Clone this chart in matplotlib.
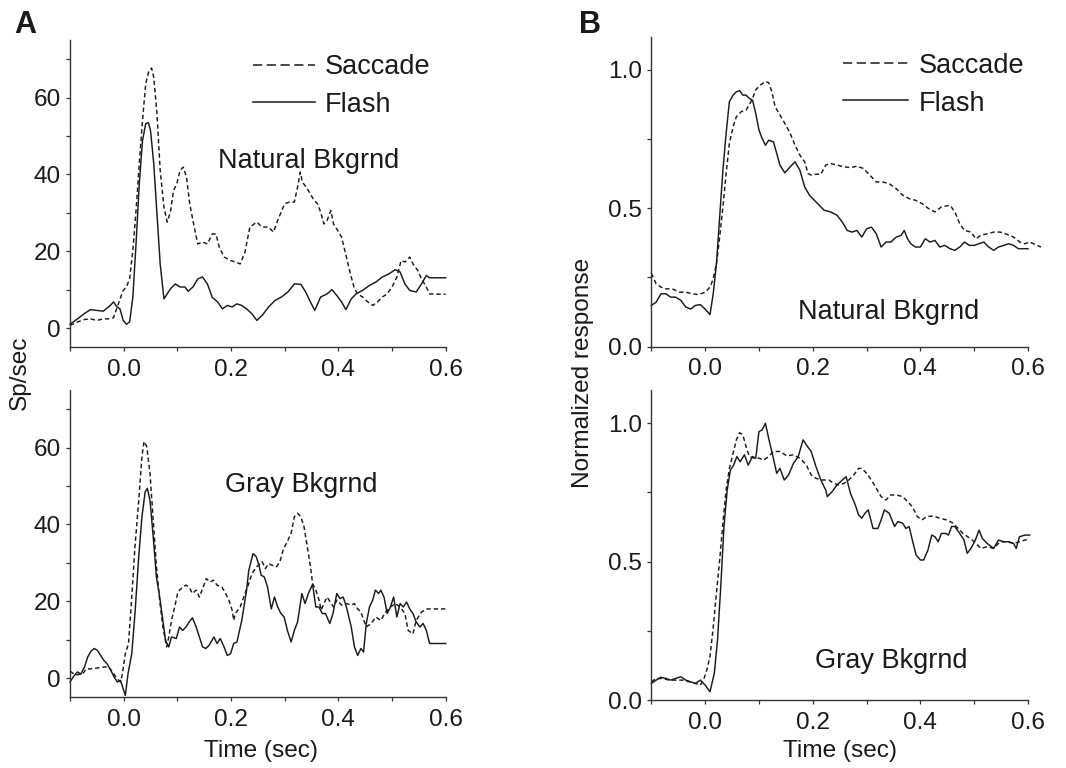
import matplotlib
matplotlib.use('Agg')
import matplotlib.pyplot as plt
from matplotlib.ticker import FixedLocator, FormatStrFormatter

plt.rcParams['font.family'] = ['Liberation Sans', 'DejaVu Sans']
INK = '#1a1a1a'
AXC = '#333333'

# ---------------- data (time in s, value) ----------------
# Panel A, natural background (spikes/s)
nat_flash = [(-0.100, 1.0), (-0.086, 2.4), (-0.074, 3.7), (-0.062, 4.8), (-0.050, 4.6), (-0.038, 4.4),
             (-0.025, 5.9), (-0.019, 6.8), (-0.013, 5.6), (-0.007, 5.0), (-0.001, 2.0), (0.005, 1.0),
             (0.011, 1.6), (0.017, 8.0), (0.023, 22.0), (0.029, 37.5), (0.035, 48.8), (0.041, 53.2),
             (0.046, 53.5), (0.050, 51.4), (0.056, 42.8), (0.062, 29.7), (0.068, 16.7), (0.075, 7.6),
             (0.081, 8.9), (0.087, 10.2), (0.096, 11.5), (0.105, 10.7), (0.114, 10.7), (0.120, 9.6),
             (0.129, 10.7), (0.138, 12.8), (0.147, 13.3), (0.156, 11.5), (0.165, 8.0), (0.175, 6.8),
             (0.184, 5.0), (0.193, 5.9), (0.202, 5.5), (0.211, 6.3), (0.220, 5.9), (0.229, 5.0),
             (0.239, 3.7), (0.248, 2.0), (0.258, 3.3), (0.270, 5.5), (0.282, 7.2), (0.294, 8.1),
             (0.306, 9.4), (0.318, 11.5), (0.330, 11.4), (0.339, 9.4), (0.348, 6.8), (0.356, 4.6),
             (0.367, 8.1), (0.379, 8.9), (0.388, 10.0), (0.397, 8.5), (0.406, 6.8), (0.414, 4.8),
             (0.424, 7.6), (0.433, 8.9), (0.445, 9.8), (0.458, 11.1), (0.470, 12.0), (0.482, 13.3),
             (0.494, 14.1), (0.506, 15.2), (0.515, 14.6), (0.524, 11.5), (0.533, 9.8), (0.545, 9.4),
             (0.555, 11.5), (0.564, 13.7), (0.570, 13.1), (0.600, 13.1)]
nat_saccade = [(-0.100, 0.7), (-0.086, 1.6), (-0.074, 2.2), (-0.062, 2.4), (-0.050, 2.0), (-0.038, 2.4),
               (-0.025, 2.4), (-0.019, 2.7), (-0.010, 6.3), (-0.001, 9.8), (0.005, 10.7), (0.011, 12.8),
               (0.017, 20.2), (0.023, 30.6), (0.029, 42.8), (0.035, 54.0), (0.041, 63.6), (0.047, 67.0),
               (0.052, 67.7), (0.056, 65.3), (0.062, 55.8), (0.068, 41.0), (0.075, 31.5), (0.081, 27.6),
               (0.087, 30.2), (0.093, 35.8), (0.099, 37.6), (0.105, 41.0), (0.111, 41.9), (0.117, 39.3),
               (0.123, 32.4), (0.129, 28.0), (0.138, 21.9), (0.147, 22.4), (0.156, 21.9), (0.165, 24.5),
               (0.172, 24.5), (0.178, 21.1), (0.187, 18.5), (0.199, 17.6), (0.208, 17.2), (0.217, 16.7),
               (0.226, 19.8), (0.235, 26.3), (0.239, 26.7), (0.248, 27.6), (0.258, 26.3), (0.270, 26.3),
               (0.279, 25.0), (0.288, 28.4), (0.300, 32.4), (0.309, 32.8), (0.318, 32.8), (0.324, 36.7),
               (0.329, 40.6), (0.333, 38.0), (0.342, 36.3), (0.355, 33.2), (0.361, 32.4), (0.367, 30.2),
               (0.373, 27.1), (0.379, 28.0), (0.386, 30.6), (0.391, 27.1), (0.397, 25.8), (0.406, 23.7),
               (0.412, 20.2), (0.418, 16.7), (0.424, 13.3), (0.430, 10.2), (0.436, 8.9), (0.445, 8.1),
               (0.455, 6.8), (0.464, 5.9), (0.473, 6.8), (0.482, 8.1), (0.491, 8.9), (0.500, 10.7),
               (0.509, 13.3), (0.517, 17.6), (0.524, 17.2), (0.533, 18.5), (0.539, 16.7), (0.548, 15.0),
               (0.555, 12.8), (0.564, 10.7), (0.570, 8.9), (0.600, 8.8)]

# Panel A, gray background (spikes/s)
gray_flash = [(-0.100, -1.0), (-0.092, 0.7), (-0.086, 1.6), (-0.080, 1.0), (-0.073, 2.9), (-0.067, 5.5),
              (-0.061, 7.0), (-0.055, 7.7), (-0.049, 7.2), (-0.043, 5.9), (-0.037, 4.6), (-0.031, 3.7),
              (-0.024, 2.0), (-0.018, 0.3), (-0.012, -1.0), (-0.006, -0.6), (0.000, -3.2), (0.003, -4.5),
              (0.008, 1.1), (0.015, 6.3), (0.021, 16.8), (0.028, 31.6), (0.034, 42.0), (0.040, 48.5),
              (0.044, 49.4), (0.049, 46.3), (0.055, 36.8), (0.061, 26.3), (0.067, 21.1), (0.073, 15.0),
              (0.078, 9.8), (0.084, 8.1), (0.089, 10.7), (0.098, 10.3), (0.104, 13.3), (0.110, 12.4),
              (0.116, 13.3), (0.122, 14.6), (0.128, 15.7), (0.135, 13.3), (0.141, 10.7), (0.147, 8.1),
              (0.153, 7.7), (0.159, 8.5), (0.168, 10.7), (0.174, 9.0), (0.180, 10.3), (0.187, 8.1),
              (0.193, 5.9), (0.199, 6.3), (0.205, 9.0), (0.211, 9.4), (0.220, 15.0), (0.229, 22.9),
              (0.233, 28.0), (0.241, 32.4), (0.247, 31.6), (0.252, 29.4), (0.256, 26.8), (0.262, 26.3),
              (0.268, 23.7), (0.275, 18.0), (0.281, 21.1), (0.287, 18.5), (0.293, 16.8), (0.299, 15.9),
              (0.305, 12.4), (0.312, 9.4), (0.318, 12.4), (0.324, 14.6), (0.332, 22.0), (0.338, 19.4),
              (0.344, 22.0), (0.352, 24.4), (0.358, 18.5), (0.364, 18.5), (0.370, 16.8), (0.376, 16.8),
              (0.384, 14.2), (0.390, 16.8), (0.397, 22.0), (0.403, 20.7), (0.409, 21.1), (0.415, 18.5),
              (0.424, 13.3), (0.430, 8.1), (0.436, 5.9), (0.442, 7.7), (0.447, 6.8), (0.452, 14.2),
              (0.458, 18.5), (0.464, 20.3), (0.469, 22.9), (0.475, 22.0), (0.479, 22.9), (0.485, 21.1),
              (0.491, 16.8), (0.497, 18.5), (0.503, 21.1), (0.509, 15.9), (0.515, 19.4), (0.521, 18.5),
              (0.527, 19.8), (0.533, 18.0), (0.539, 16.8), (0.545, 14.6), (0.552, 13.3), (0.558, 14.2),
              (0.564, 12.4), (0.570, 9.0), (0.600, 9.0)]
gray_saccade = [(-0.100, 1.8), (-0.090, 0.8), (-0.076, 1.1), (-0.070, 2.4), (-0.058, 2.4), (-0.046, 2.7),
                (-0.034, 2.9), (-0.028, 2.9), (-0.021, 1.6), (-0.012, -0.2), (-0.006, -1.0), (-0.003, 0.7),
                (0.003, 6.3), (0.009, 9.0), (0.015, 21.1), (0.021, 34.2), (0.028, 46.3), (0.034, 57.7),
                (0.038, 61.6), (0.043, 60.3), (0.049, 53.3), (0.055, 41.1), (0.061, 29.0), (0.067, 20.3),
                (0.073, 13.3), (0.080, 8.1), (0.084, 10.7), (0.089, 15.0), (0.095, 18.5), (0.101, 22.4),
                (0.107, 23.3), (0.116, 24.2), (0.122, 23.7), (0.128, 22.0), (0.135, 22.9), (0.141, 21.1),
                (0.147, 23.3), (0.154, 25.9), (0.161, 25.0), (0.167, 25.5), (0.174, 24.2), (0.183, 23.7),
                (0.190, 22.0), (0.196, 20.3), (0.202, 17.7), (0.205, 15.0), (0.208, 16.8), (0.217, 18.5),
                (0.226, 22.0), (0.233, 24.6), (0.239, 27.2), (0.248, 29.0), (0.258, 30.3), (0.264, 28.5),
                (0.270, 29.8), (0.276, 29.4), (0.285, 29.0), (0.291, 30.3), (0.297, 33.3), (0.306, 35.9),
                (0.312, 37.7), (0.318, 42.0), (0.324, 42.9), (0.330, 42.0), (0.336, 39.4), (0.342, 34.2),
                (0.348, 29.0), (0.352, 24.6), (0.358, 22.9), (0.364, 20.3), (0.368, 17.7), (0.373, 19.4),
                (0.379, 21.1), (0.385, 19.8), (0.391, 18.5), (0.397, 20.3), (0.406, 19.0), (0.415, 19.4),
                (0.424, 19.0), (0.430, 19.4), (0.436, 18.0), (0.442, 17.2), (0.452, 13.3), (0.461, 14.2),
                (0.470, 15.9), (0.479, 15.0), (0.488, 17.2), (0.497, 18.5), (0.506, 19.4), (0.515, 18.5),
                (0.524, 16.8), (0.530, 12.4), (0.539, 11.5), (0.545, 15.0), (0.555, 17.2), (0.564, 18.0),
                (0.600, 18.0)]

# Panel B, natural background (normalized)
nat_flash_norm = [(-0.100, 0.149), (-0.091, 0.161), (-0.082, 0.191), (-0.073, 0.191), (-0.064, 0.179),
                  (-0.055, 0.179), (-0.045, 0.167), (-0.036, 0.143), (-0.027, 0.136), (-0.018, 0.149),
                  (-0.009, 0.152), (0.000, 0.136), (0.009, 0.116), (0.015, 0.191), (0.021, 0.300),
                  (0.027, 0.469), (0.033, 0.638), (0.039, 0.771), (0.045, 0.885), (0.052, 0.909),
                  (0.058, 0.921), (0.064, 0.925), (0.070, 0.909), (0.076, 0.909), (0.082, 0.897),
                  (0.088, 0.891), (0.094, 0.843), (0.100, 0.783), (0.106, 0.752), (0.112, 0.728),
                  (0.118, 0.746), (0.127, 0.740), (0.133, 0.698), (0.139, 0.656), (0.148, 0.628),
                  (0.158, 0.650), (0.167, 0.668), (0.176, 0.638), (0.185, 0.577), (0.194, 0.547),
                  (0.203, 0.529), (0.212, 0.511), (0.221, 0.493), (0.233, 0.487), (0.245, 0.475),
                  (0.255, 0.450), (0.264, 0.420), (0.273, 0.414), (0.282, 0.420), (0.291, 0.396),
                  (0.300, 0.426), (0.309, 0.432), (0.318, 0.408), (0.327, 0.360), (0.336, 0.378),
                  (0.345, 0.378), (0.355, 0.396), (0.364, 0.402), (0.370, 0.420), (0.376, 0.390),
                  (0.382, 0.372), (0.391, 0.360), (0.400, 0.360), (0.409, 0.390), (0.418, 0.378),
                  (0.427, 0.384), (0.436, 0.360), (0.445, 0.366), (0.455, 0.354), (0.464, 0.348),
                  (0.473, 0.360), (0.482, 0.378), (0.491, 0.366), (0.500, 0.366), (0.509, 0.372),
                  (0.518, 0.378), (0.527, 0.360), (0.536, 0.348), (0.545, 0.360), (0.555, 0.366),
                  (0.564, 0.372), (0.573, 0.366), (0.582, 0.354), (0.591, 0.354), (0.600, 0.354)]
nat_saccade_norm = [(-0.100, 0.265), (-0.091, 0.227), (-0.082, 0.215), (-0.073, 0.209), (-0.061, 0.209),
                    (-0.048, 0.197), (-0.036, 0.197), (-0.024, 0.191), (-0.012, 0.188), (0.000, 0.197),
                    (0.009, 0.215), (0.015, 0.245), (0.021, 0.300), (0.027, 0.396), (0.033, 0.505),
                    (0.039, 0.626), (0.045, 0.734), (0.052, 0.795), (0.058, 0.831), (0.067, 0.849),
                    (0.076, 0.855), (0.082, 0.873), (0.088, 0.897), (0.094, 0.928), (0.103, 0.946),
                    (0.112, 0.958), (0.118, 0.954), (0.124, 0.921), (0.130, 0.867), (0.139, 0.837),
                    (0.148, 0.807), (0.158, 0.771), (0.167, 0.728), (0.176, 0.692), (0.185, 0.668),
                    (0.191, 0.626), (0.197, 0.620), (0.206, 0.623), (0.215, 0.623), (0.224, 0.656),
                    (0.233, 0.662), (0.245, 0.656), (0.258, 0.650), (0.270, 0.647), (0.282, 0.652),
                    (0.294, 0.644), (0.306, 0.620), (0.318, 0.595), (0.330, 0.595), (0.342, 0.589),
                    (0.355, 0.571), (0.367, 0.547), (0.379, 0.535), (0.391, 0.529), (0.403, 0.517),
                    (0.415, 0.499), (0.427, 0.487), (0.439, 0.505), (0.455, 0.511), (0.464, 0.487),
                    (0.473, 0.444), (0.482, 0.420), (0.494, 0.414), (0.503, 0.390), (0.512, 0.402),
                    (0.524, 0.408), (0.536, 0.414), (0.548, 0.414), (0.561, 0.406), (0.573, 0.396),
                    (0.585, 0.378), (0.594, 0.372), (0.603, 0.378), (0.624, 0.360)]

# Panel B, gray background (normalized)
gray_flash_norm = [(-0.100, 0.060), (-0.091, 0.072), (-0.082, 0.082), (-0.073, 0.078), (-0.064, 0.072),
                   (-0.055, 0.078), (-0.045, 0.084), (-0.036, 0.072), (-0.027, 0.066), (-0.018, 0.060),
                   (-0.009, 0.072), (0.000, 0.054), (0.009, 0.030), (0.017, 0.096), (0.023, 0.217),
                   (0.029, 0.410), (0.035, 0.627), (0.041, 0.759), (0.047, 0.831), (0.053, 0.849),
                   (0.059, 0.880), (0.065, 0.861), (0.073, 0.886), (0.080, 0.849), (0.088, 0.880),
                   (0.094, 0.874), (0.100, 0.970), (0.106, 0.976), (0.112, 1.000), (0.118, 0.946),
                   (0.126, 0.880), (0.133, 0.819), (0.139, 0.837), (0.147, 0.795), (0.155, 0.813),
                   (0.164, 0.855), (0.173, 0.880), (0.182, 0.940), (0.188, 0.922), (0.197, 0.898),
                   (0.206, 0.843), (0.215, 0.795), (0.224, 0.759), (0.227, 0.735), (0.236, 0.753),
                   (0.245, 0.777), (0.255, 0.795), (0.262, 0.807), (0.270, 0.747), (0.279, 0.705),
                   (0.285, 0.669), (0.291, 0.657), (0.297, 0.675), (0.303, 0.687), (0.312, 0.620),
                   (0.321, 0.620), (0.327, 0.651), (0.333, 0.687), (0.342, 0.675), (0.352, 0.627),
                   (0.358, 0.645), (0.367, 0.639), (0.373, 0.620), (0.379, 0.627), (0.385, 0.578),
                   (0.392, 0.524), (0.400, 0.506), (0.406, 0.506), (0.414, 0.542), (0.421, 0.596),
                   (0.427, 0.590), (0.433, 0.572), (0.439, 0.602), (0.447, 0.602), (0.452, 0.596),
                   (0.458, 0.627), (0.464, 0.627), (0.473, 0.602), (0.481, 0.578), (0.487, 0.530),
                   (0.494, 0.548), (0.502, 0.578), (0.509, 0.614), (0.515, 0.584), (0.524, 0.566),
                   (0.530, 0.557), (0.536, 0.548), (0.545, 0.578), (0.555, 0.572), (0.564, 0.572),
                   (0.573, 0.566), (0.578, 0.548), (0.584, 0.590), (0.594, 0.596), (0.603, 0.596)]
gray_saccade_norm = [(-0.100, 0.066), (-0.091, 0.078), (-0.079, 0.078), (-0.067, 0.072), (-0.055, 0.072),
                     (-0.042, 0.072), (-0.030, 0.066), (-0.018, 0.060), (-0.009, 0.054), (-0.003, 0.072),
                     (0.003, 0.108), (0.009, 0.157), (0.015, 0.263), (0.021, 0.386), (0.027, 0.506),
                     (0.033, 0.639), (0.039, 0.759), (0.045, 0.837), (0.052, 0.892), (0.058, 0.940),
                     (0.064, 0.966), (0.070, 0.958), (0.076, 0.916), (0.082, 0.880), (0.091, 0.874),
                     (0.100, 0.874), (0.109, 0.867), (0.118, 0.880), (0.127, 0.898), (0.139, 0.898),
                     (0.152, 0.882), (0.164, 0.886), (0.176, 0.874), (0.188, 0.849), (0.197, 0.813),
                     (0.206, 0.801), (0.218, 0.795), (0.230, 0.795), (0.239, 0.783), (0.248, 0.777),
                     (0.258, 0.783), (0.267, 0.795), (0.276, 0.813), (0.285, 0.837), (0.291, 0.837),
                     (0.300, 0.819), (0.309, 0.795), (0.318, 0.765), (0.327, 0.735), (0.336, 0.723),
                     (0.345, 0.741), (0.355, 0.741), (0.367, 0.735), (0.376, 0.717), (0.385, 0.699),
                     (0.394, 0.663), (0.403, 0.651), (0.412, 0.663), (0.424, 0.665), (0.436, 0.657),
                     (0.448, 0.651), (0.461, 0.639), (0.470, 0.620), (0.479, 0.602), (0.488, 0.590),
                     (0.500, 0.572), (0.512, 0.548), (0.524, 0.554), (0.536, 0.548), (0.548, 0.572),
                     (0.561, 0.572), (0.573, 0.566), (0.585, 0.572), (0.594, 0.578), (0.603, 0.581)]

x_major = [0.0, 0.2, 0.4, 0.6]
x_minor = [-0.1, 0.1, 0.3, 0.5]
rate_major = [0, 20, 40, 60]
rate_minor = [10, 30, 50, 70]
norm_major = [0.0, 0.5, 1.0]
norm_minor = [0.25, 0.75]

# ---------------- figure ----------------
fig = plt.figure(figsize=(10.66, 7.68), dpi=100)
axA1 = fig.add_axes([0.0657, 0.5478, 0.3524, 0.4001])
axA2 = fig.add_axes([0.0657, 0.0921, 0.3524, 0.4001])
axB1 = fig.add_axes([0.6110, 0.5486, 0.3534, 0.4036])
axB2 = fig.add_axes([0.6110, 0.0885, 0.3534, 0.4036])

DASH = (0, (3.0, 2.0))
TXT = 19.5
TICK = 17.6


def style(ax, ylim, ymaj, ymin, yfmt):
    ax.set_xlim(-0.1, 0.6)
    ax.set_ylim(*ylim)
    for s in ('top', 'right'):
        ax.spines[s].set_visible(False)
    for s in ('left', 'bottom'):
        ax.spines[s].set_color(AXC)
        ax.spines[s].set_linewidth(1.0)
    ax.xaxis.set_major_locator(FixedLocator(x_major))
    ax.xaxis.set_minor_locator(FixedLocator(x_minor))
    ax.xaxis.set_major_formatter(FormatStrFormatter('%.1f'))
    ax.yaxis.set_major_locator(FixedLocator(ymaj))
    ax.yaxis.set_minor_locator(FixedLocator(ymin))
    ax.yaxis.set_major_formatter(FormatStrFormatter(yfmt))
    ax.tick_params(which='both', direction='out', length=3.0, width=0.9, color=AXC,
                   labelsize=TICK, labelcolor=INK)
    ax.tick_params(axis='x', which='both', pad=5.5)
    ax.tick_params(axis='y', which='both', pad=3.5)
    ax.patch.set_visible(False)


def draw(ax, series, ls):
    t = [p[0] for p in series]
    v = [p[1] for p in series]
    ax.plot(t, v, color=INK, lw=1.05, ls=ls, clip_on=False)


def legend(ax, x0, x1, yl1, yb1, yl2, yb2, xt):
    ax.plot([x0, x1], [yl1, yl1], transform=ax.transAxes, color=INK, lw=1.1,
            ls=(0, (6.0, 3.0)), clip_on=False)
    ax.plot([x0, x1], [yl2, yl2], transform=ax.transAxes, color=INK, lw=1.1,
            ls='-', clip_on=False)
    ax.text(xt, yb1, 'Saccade', transform=ax.transAxes, fontsize=TXT, color=INK,
            ha='left', va='baseline')
    ax.text(xt, yb2, 'Flash', transform=ax.transAxes, fontsize=TXT, color=INK,
            ha='left', va='baseline')


style(axA1, (-5, 75), rate_major, rate_minor, '%d')
style(axA2, (-5, 75), rate_major, rate_minor, '%d')
style(axB1, (0, 1.12), norm_major, norm_minor, '%.1f')
style(axB2, (0, 1.12), norm_major, norm_minor, '%.1f')

draw(axA1, nat_saccade, DASH)
draw(axA1, nat_flash, '-')
draw(axA2, gray_saccade, DASH)
draw(axA2, gray_flash, '-')
draw(axB1, nat_saccade_norm, DASH)
draw(axB1, nat_flash_norm, '-')
draw(axB2, gray_saccade_norm, DASH)
draw(axB2, gray_flash_norm, '-')

legend(axA1, 0.487, 0.652, 0.919, 0.889, 0.799, 0.767, 0.679)
legend(axB1, 0.510, 0.682, 0.914, 0.882, 0.796, 0.760, 0.709)

axA1.text(0.634, 0.583, 'Natural Bkgrnd', transform=axA1.transAxes, fontsize=TXT,
          color=INK, ha='center', va='baseline')
axA2.text(0.615, 0.668, 'Gray Bkgrnd', transform=axA2.transAxes, fontsize=TXT,
          color=INK, ha='center', va='baseline')
axB1.text(0.630, 0.088, 'Natural Bkgrnd', transform=axB1.transAxes, fontsize=TXT,
          color=INK, ha='center', va='baseline')
axB2.text(0.636, 0.103, 'Gray Bkgrnd', transform=axB2.transAxes, fontsize=TXT,
          color=INK, ha='center', va='baseline')

W, H = 1066.0, 768.0
fig.text(14 / W, 1 - 33 / H, 'A', fontsize=22, fontweight='bold', color=INK,
         ha='left', va='baseline')
fig.text(579 / W, 1 - 33 / H, 'B', fontsize=22, fontweight='bold', color=INK,
         ha='left', va='baseline')
fig.text(20 / W, 1 - 373 / H, 'Sp/sec', fontsize=TICK, color=INK, rotation=90,
         ha='center', va='center')
fig.text(583 / W, 1 - 373 / H, 'Normalized response', fontsize=TICK, color=INK,
         rotation=90, ha='center', va='center')
fig.text(261 / W, 1 - 751 / H, 'Time (sec)', fontsize=TICK, color=INK,
         ha='center', va='center')
fig.text(840 / W, 1 - 751.5 / H, 'Time (sec)', fontsize=TICK, color=INK,
         ha='center', va='center')

fig.savefig('out.png', dpi=100, facecolor='white')
